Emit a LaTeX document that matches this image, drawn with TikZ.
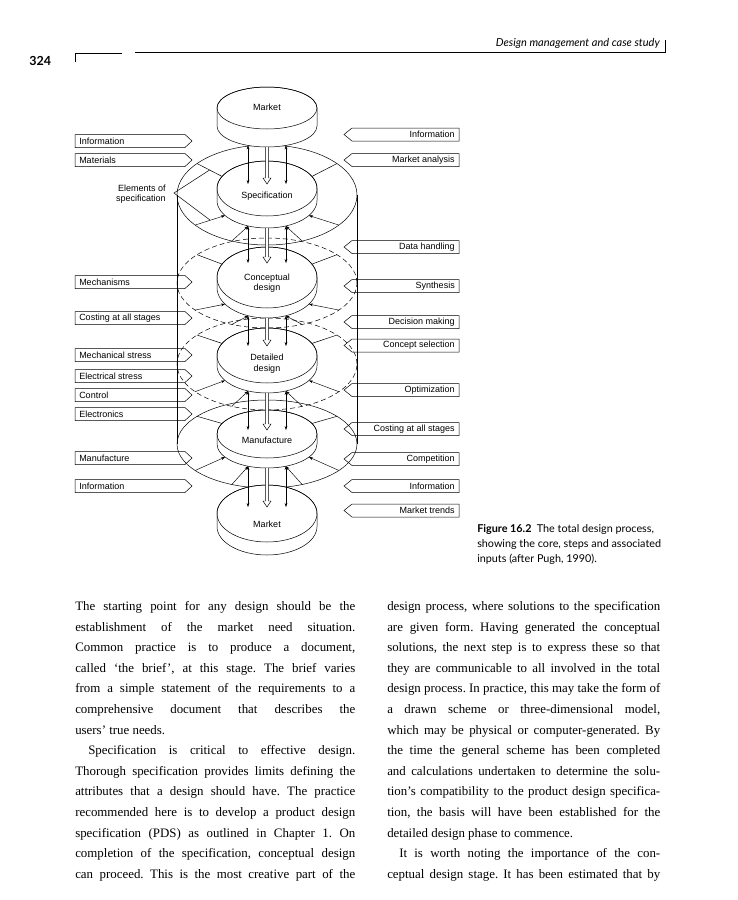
\documentclass[tikz,border=0pt]{standalone}
\usepackage{fontspec}
\setmainfont{Liberation Serif}
\setsansfont{Liberation Sans}
\newfontfamily\gill{Lato}
\usepackage{graphicx}
\usetikzlibrary{arrows.meta}
\frenchspacing

\newsavebox\jbox
\newcommand\jline[2]{\sbox\jbox{#2}\ifdim\wd\jbox>#1\relax\resizebox{#1}{\ht\jbox}{\usebox\jbox}\else\makebox[#1][s]{#2}\fi}
\newcommand\bodyfont{\fontsize{12.9}{14}\selectfont}

\tikzset{
  lbl/.style={font=\sffamily\fontsize{9}{10.5}\selectfont, inner sep=0pt},
  arr/.style={-{Stealth[length=4pt,width=2.8pt]}, line width=0.45pt},
  darr/.style={{Stealth[length=4pt,width=2.8pt]}-{Stealth[length=4pt,width=2.8pt]}, line width=0.45pt},
  hid/.style={dash pattern=on 5pt off 3pt},
  bodyl/.style={anchor=base west, inner sep=0pt, font=\bodyfont},
  capl/.style={anchor=base west, inner sep=0pt, font=\gill\fontsize{10.8}{12}\selectfont},
  tagbox/.style={line width=0.5pt},
}

% disc: yc, ry, thickness
\newcommand\disc[3]{%
  \filldraw[fill=white, line width=0.5pt] (217,#1) -- (217,{#1+#3})
     arc[start angle=180,end angle=360,x radius=50pt,y radius=#2pt] -- (317,#1)
     arc[start angle=0,end angle=180,x radius=50pt,y radius=#2pt] -- cycle;
  \draw[line width=0.5pt] (267,#1) ellipse[x radius=50pt,y radius=#2pt];}

% hollow arrow: start y, tip y
\newcommand\hollow[2]{%
  \filldraw[fill=white, line width=0.45pt] (265.3,#1) -- (265.3,{#2-6}) -- (263,{#2-6}) -- (267,#2)
     -- (271,{#2-6}) -- (268.7,{#2-6}) -- (268.7,#1);}

\begin{document}
\begin{tikzpicture}[x=1pt,y=-1pt,line width=0.5pt]
\useasboundingbox (0,0) rectangle (737,900);
\fill[white] (0,0) rectangle (737,900);

% ---------- running header ----------
\node[anchor=base west, inner sep=0pt, font=\gill\bfseries\fontsize{12.5}{13}\selectfont] (pg) at (29,65) {324};
\node[anchor=base east, inner sep=0pt, font=\gill\itshape\fontsize{11}{12}\selectfont] (hdr) at (660,46) {Design management and case study};
\draw (75,62) -- (75,53) -- (122,53);
\draw (135,52) -- (665,52) -- (665,40);

% ---------- outer rings ----------
\draw (267,195) ellipse[x radius=90pt,y radius=50pt];
\draw[hid] (267,283) ellipse[x radius=90pt,y radius=45pt];
\draw[hid] (267,364) ellipse[x radius=90pt,y radius=46pt];
\draw (267,444) ellipse[x radius=90pt,y radius=44pt];
\draw (177,195) -- (177,444);
\draw (357,195) -- (357,444);

% ---------- discs ----------
\disc{108}{21}{18}
\disc{188.5}{27.5}{12}
\disc{277.5}{30.5}{10}
\disc{355.5}{27.5}{10}
\disc{434}{24}{10}
\disc{513.5}{28.5}{13}

\node[lbl] (mkt1) at (267,107) {Market};
\node[lbl] (spec) at (267,196) {Specification};
\node[lbl, align=center] (conc) at (267,283) {Conceptual\\design};
\node[lbl, align=center] (det) at (267,363.5) {Detailed\\design};
\node[lbl] (manu) at (267,440) {Manufacture};
\node[lbl] (mkt2) at (267,524) {Market};

% ---------- spokes ----------
\foreach \qa/\qb/\qc/\qd/\qe in {188.5/27.5/12/195/50, 277.5/30.5/10/283/45, 355.5/27.5/10/364/46, 434/24/10/444/44}{
  \draw ({267+90*cos(219)},{\qd+\qe*sin(219)}) -- ({267+50*cos(206)},{\qa+\qb*sin(206)});
  \draw ({267+90*cos(321)},{\qd+\qe*sin(321)}) -- ({267+50*cos(334)},{\qa+\qb*sin(334)});
  \draw[arr] ({267+90*cos(143)},{\qd+\qe*sin(143)}) -- ({267+50*cos(147)},{\qa+\qc+\qb*sin(147)});
  \draw[arr] ({267+90*cos(37)},{\qd+\qe*sin(37)}) -- ({267+50*cos(33)},{\qa+\qc+\qb*sin(33)});
  \draw[arr] ({267+90*cos(113)},{\qd+\qe*sin(113)}) -- ({267+50*cos(112)},{\qa+\qc+\qb*sin(112)});
  \draw[arr] ({267+90*cos(67)},{\qd+\qe*sin(67)}) -- ({267+50*cos(68)},{\qa+\qc+\qb*sin(68)});
}

% ---------- flows between discs ----------
\foreach \ya/\yb/\yc in {145.4/184/147, 226/263/228, 315.7/346/318, 391/430/393, 466/507/468}{
  \draw[darr] (248,\ya) -- (248,\yb);
  \draw[darr] (286,\ya) -- (286,\yb);
  \hollow{\yc}{\yb}
}

% ---------- elements of specification ----------
\node[lbl, align=right, anchor=east] (elem) at (166,194) {Elements of\\specification};
\coordinate (elP) at (174,193);
\coordinate (elU) at (209.6,170);
\coordinate (elL) at (210,220);
\draw (elU) -- (elP) -- (elL);

% ---------- input tags ----------
\foreach \yy/\tx [count=\i] in {141/Information, 160/Materials, 282/Mechanisms, 318/Costing at all stages,
   355/Mechanical stress, 376/Electrical stress, 395/Control, 414/Electronics, 458/Manufacture, 486/Information}{
  \draw[tagbox] (75,\yy-6.5) -- (185,\yy-6.5) -- (192,\yy) -- (185,\yy+6.5) -- (75,\yy+6.5) -- cycle;
  \node[lbl, anchor=west] (L\i) at (79,\yy) {\tx};
}
\foreach \yy/\tx [count=\i] in {134.5/Information, 160/Market analysis, 247/Data handling, 286/Synthesis,
   322/Decision making, 345.5/Concept selection, 390/Optimization, 429/Costing at all stages,
   459/Competition, 486/Information, 510.5/Market trends}{
  \draw[tagbox] (459,\yy-6.5) -- (352,\yy-6.5) -- (344,\yy) -- (352,\yy+6.5) -- (459,\yy+6.5) -- cycle;
  \node[lbl, anchor=east] (R\i) at (455,\yy) {\tx};
}

% ---------- caption ----------
\node[capl] (cap1) at (477,532) {\textbf{Figure 16.2}\enspace The total design process,};
\node[capl] (cap2) at (477,547) {showing the core, steps and associated};
\node[capl] (cap3) at (477,562) {inputs (after Pugh, 1990).};

% ---------- body text ----------
\node[bodyl] (a1) at (75,610.5) {\jline{280pt}{The starting point for any design should be the}};
\node[bodyl] (a2) at (75,631.1) {\jline{280pt}{establishment of the market need situation.}};
\node[bodyl] (a3) at (75,651.7) {\jline{280pt}{Common practice is to produce a document,}};
\node[bodyl] (a4) at (75,672.3) {\jline{280pt}{called ‘the brief’, at this stage. The brief varies}};
\node[bodyl] (a5) at (75,692.9) {\jline{280pt}{from a simple statement of the requirements to a}};
\node[bodyl] (a6) at (75,713.5) {\jline{280pt}{comprehensive document that describes the}};
\node[bodyl] (a7) at (75,734.1) {users’ true needs.};
\node[bodyl] (a8) at (88,754.7) {\jline{267pt}{Specification is critical to effective design.}};
\node[bodyl] (a9) at (75,775.3) {\jline{280pt}{Thorough specification provides limits defining the}};
\node[bodyl] (a10) at (75,795.9) {\jline{280pt}{attributes that a design should have. The practice}};
\node[bodyl] (a11) at (75,816.5) {\jline{280pt}{recommended here is to develop a product design}};
\node[bodyl] (a12) at (75,837.1) {\jline{280pt}{specification (PDS) as outlined in Chapter 1. On}};
\node[bodyl] (a13) at (75,857.7) {\jline{280pt}{completion of the specification, conceptual design}};
\node[bodyl] (a14) at (75,878.3) {\jline{280pt}{can proceed. This is the most creative part of the}};

\node[bodyl] (b1) at (387,610.5) {\jline{273pt}{design process, where solutions to the specification}};
\node[bodyl] (b2) at (387,631.1) {\jline{273pt}{are given form. Having generated the conceptual}};
\node[bodyl] (b3) at (387,651.7) {\jline{273pt}{solutions, the next step is to express these so that}};
\node[bodyl] (b4) at (387,672.3) {\jline{273pt}{they are communicable to all involved in the total}};
\node[bodyl] (b5) at (387,692.9) {\jline{273pt}{design process. In practice, this may take the form of}};
\node[bodyl] (b6) at (387,713.5) {\jline{273pt}{a drawn scheme or three-dimensional model,}};
\node[bodyl] (b7) at (387,734.1) {\jline{273pt}{which may be physical or computer-generated. By}};
\node[bodyl] (b8) at (387,754.7) {\jline{273pt}{the time the general scheme has been completed}};
\node[bodyl] (b9) at (387,775.3) {\jline{273pt}{and calculations undertaken to determine the solu-}};
\node[bodyl] (b10) at (387,795.9) {\jline{273pt}{tion’s compatibility to the product design specifica-}};
\node[bodyl] (b11) at (387,816.5) {\jline{273pt}{tion, the basis will have been established for the}};
\node[bodyl] (b12) at (387,837.1) {detailed design phase to commence.};
\node[bodyl] (b13) at (399,857.7) {\jline{261pt}{It is worth noting the importance of the con-}};
\node[bodyl] (b14) at (387,878.3) {\jline{273pt}{ceptual design stage. It has been estimated that by}};

\end{tikzpicture}
\end{document}
